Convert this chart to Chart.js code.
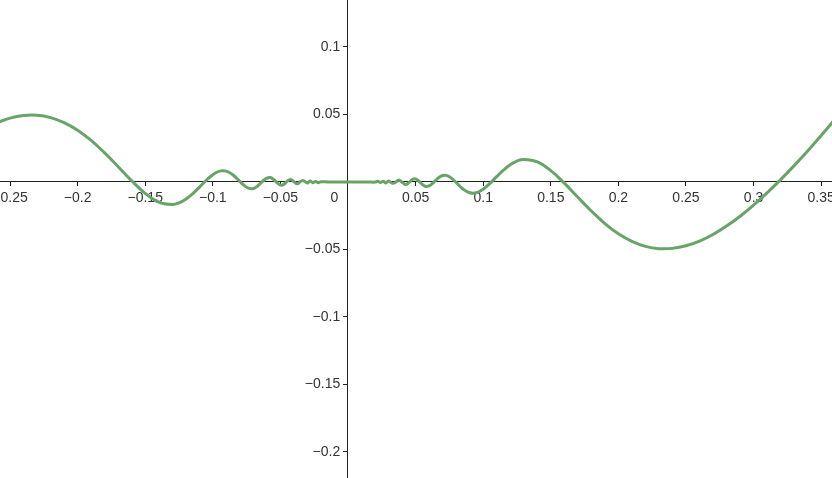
<!DOCTYPE html>
<html>
<head>
<meta charset="utf-8">
<script src="https://cdn.jsdelivr.net/npm/chart.js@4/dist/chart.umd.min.js"></script>
<style>
  html, body { margin: 0; padding: 0; background: #fff; }
  canvas { display: block; }
</style>
</head>
<body>
<canvas id="plot" width="832" height="478"></canvas>
<script>
'use strict';

// curve samples
const xValues = [
    -0.26, -0.25, -0.24, -0.23, -0.22, -0.21, -0.20, -0.19, -0.18, -0.17,
    -0.16, -0.15, -0.14, -0.13, -0.125, -0.12, -0.115, -0.11, -0.105, -0.10,
    -0.095, -0.09, -0.085, -0.08, -0.0775, -0.075, -0.0725, -0.07, -0.0675, -0.065,
    -0.0625, -0.06, -0.0575, -0.055, -0.0525, -0.05, -0.0475, -0.045, -0.0425, -0.04,
    -0.0375, -0.035, -0.033, -0.03, -0.028, -0.026, -0.024, -0.022, -0.02, -0.015,
    -0.01, 0, 0.01, 0.015, 0.02, 0.022, 0.024, 0.026, 0.028, 0.03,
    0.033, 0.035, 0.0375, 0.04, 0.0425, 0.045, 0.0475, 0.05, 0.0525, 0.055,
    0.0575, 0.06, 0.0625, 0.065, 0.0675, 0.07, 0.0725, 0.075, 0.0775, 0.08,
    0.085, 0.09, 0.095, 0.10, 0.105, 0.11, 0.115, 0.12, 0.125, 0.13,
    0.14, 0.15, 0.16, 0.17, 0.18, 0.19, 0.20, 0.21, 0.22, 0.23,
    0.24, 0.25, 0.26, 0.27, 0.28, 0.29, 0.30, 0.31, 0.32, 0.33,
    0.34, 0.35, 0.36
];
const yValues = [
    0.0438, 0.0473, 0.0492, 0.0494, 0.0477, 0.0440, 0.0384, 0.0308, 0.0215, 0.0113,
    0.0009, -0.0084, -0.0149, -0.0167, -0.0155, -0.0128, -0.0088, -0.0040, 0.0011, 0.0054,
    0.0080, 0.0080, 0.0052, 0.0004, -0.0020, -0.0039, -0.0049, -0.0048, -0.0035, -0.0013,
    0.0011, 0.0029, 0.0033, 0.0019, -0.0005, -0.0023, -0.0018, 0.0005, 0.0018, 0.0002,
    -0.0014, 0.0004, 0.0010, -0.0008, 0.0007, -0.0005, 0.0004, -0.0005, 0.0001, 0,
    0, 0, 0, 0, -0.0001, 0.0005, -0.0004, 0.0005, -0.0007, 0.0008,
    -0.0010, -0.0004, 0.0014, -0.0002, -0.0018, -0.0005, 0.0018, 0.0023, 0.0005, -0.0019,
    -0.0033, -0.0029, -0.0011, 0.0013, 0.0035, 0.0048, 0.0049, 0.0039, 0.0020, -0.0004,
    -0.0052, -0.0080, -0.0080, -0.0054, -0.0011, 0.0040, 0.0088, 0.0128, 0.0155, 0.0167,
    0.0149, 0.0084, -0.0009, -0.0113, -0.0215, -0.0308, -0.0384, -0.0440, -0.0477, -0.0494,
    -0.0492, -0.0473, -0.0438, -0.0389, -0.0327, -0.0254, -0.0171, -0.0081, 0.0017, 0.0121,
    0.0230, 0.0344, 0.0461
];

// visible window of the graphics view
const xRange = [-0.2574, 0.358];
const yRange = [-0.2193, 0.1348];
const tickStep = 0.05;

const AXIS_COLOR = '#222';
const LABEL_COLOR = '#333';
const CURVE_COLOR = 'rgb(104, 163, 104)';

const points = xValues.map((x, i) => ({ x: x, y: yValues[i] }));

function formatTick(value) {
    const v = Math.round(value * 100) / 100;
    if (v === 0) return '0';
    const txt = String(Math.abs(v));
    return v < 0 ? '\u2212' + txt : txt;
}

const noPadding = (scale) => {
    scale.paddingLeft = 0;
    scale.paddingRight = 0;
    scale.paddingTop = 0;
    scale.paddingBottom = 0;
};

const axisGrid = {
    display: true,
    drawOnChartArea: false,
    drawTicks: true,
    tickLength: 4,
    tickWidth: 1,
    color: AXIS_COLOR,
};

const ctx = document.getElementById('plot').getContext('2d');

new Chart(ctx, {
    type: 'scatter',
    data: {
        datasets: [
            {
                data: points,
                showLine: true,
                borderColor: CURVE_COLOR,
                borderWidth: 3,
                pointRadius: 0,
                tension: 0.4,
                fill: false,
            },
        ],
    },
    options: {
        responsive: false,
        animation: false,
        layout: { padding: 0 },
        plugins: {
            legend: { display: false },
            tooltip: { enabled: false },
        },
        scales: {
            x: {
                type: 'linear',
                min: xRange[0],
                max: xRange[1],
                position: { y: 0 },
                afterFit: noPadding,
                grid: axisGrid,
                border: { display: true, color: AXIS_COLOR, width: 1 },
                ticks: {
                    stepSize: tickStep,
                    includeBounds: false,
                    autoSkip: false,
                    maxRotation: 0,
                    padding: 4,
                    color: LABEL_COLOR,
                    font: { family: '"Liberation Sans", Arial, sans-serif', size: 14 },
                    callback: (value) => {
                        const txt = formatTick(value);
                        return txt === '0' ? '0' + '\u00a0'.repeat(7) : txt;
                    },
                },
            },
            y: {
                type: 'linear',
                min: yRange[0],
                max: yRange[1],
                position: { x: 0 },
                afterFit: noPadding,
                grid: axisGrid,
                border: { display: true, color: AXIS_COLOR, width: 1 },
                ticks: {
                    stepSize: tickStep,
                    includeBounds: false,
                    autoSkip: false,
                    color: LABEL_COLOR,
                    font: { family: '"Liberation Sans", Arial, sans-serif', size: 14 },
                    // labels sit right against the axis here, so pad with spaces
                    callback: (value) => {
                        const txt = formatTick(value);
                        return txt === '0' ? '' : txt + '\u00a0\u00a0';
                    },
                },
            },
        },
    },
});
</script>
</body>
</html>
